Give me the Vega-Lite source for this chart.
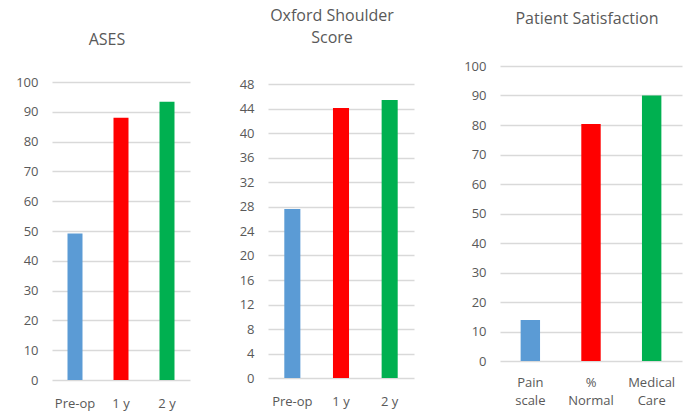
{
  "$schema": "https://vega.github.io/schema/vega-lite/v6.json",
  "background": "white",
  "padding": {"left": 15, "top": 8, "right": 5, "bottom": 2},
  "spacing": 49,
  "config": {
    "view": {"stroke": null},
    "font": "Open Sans",
    "axis": {"labelFont": "Open Sans", "labelFontSize": 13, "labelColor": "#595959", "ticks": false, "domain": false, "title": null},
    "axisY": {"gridColor": "#d9d9d9", "gridWidth": 1.3, "labelPadding": 14},
    "axisX": {"grid": false, "labelAngle": 0, "labelPadding": 17},
    "title": {"font": "Open Sans", "fontSize": 16, "fontWeight": "normal", "color": "#595959", "frame": "group", "lineHeight": 22}
  },
  "datasets": {
    "ases": [
      {"period": "Pre-op", "value": 49.2},
      {"period": "1 y", "value": 88},
      {"period": "2 y", "value": 93.4}
    ],
    "oxford": [
      {"period": "Pre-op", "value": 27.6},
      {"period": "1 y", "value": 44.1},
      {"period": "2 y", "value": 45.4}
    ],
    "satisfaction": [
      {"item": "Pain scale", "value": 13.9},
      {"item": "% Normal", "value": 80.3},
      {"item": "Medical Care", "value": 90}
    ]
  },
  "hconcat": [
    {
      "title": {"text": "ASES", "offset": 18, "dx": -14},
      "width": 138,
      "height": 314,
      "data": {"name": "ases"},
      "mark": "bar",
      "encoding": {
        "x": {"field": "period", "type": "nominal", "sort": null, "scale": {"paddingInner": 0.674, "paddingOuter": 0.337}},
        "y": {"field": "value", "type": "quantitative", "scale": {"domain": [0, 100], "range": [314, 16]}, "axis": {"values": [0,10,20,30,40,50,60,70,80,90,100]}},
        "color": {"field": "period", "type": "nominal", "scale": {"domain": ["Pre-op", "1 y", "2 y"], "range": ["#5b9bd5", "#ff0000", "#00b050"]}, "legend": null}
      }
    },
    {
      "title": {"text": ["Oxford Shoulder", "Score"], "offset": 20, "dx": -9},
      "width": 146,
      "height": 312,
      "data": {"name": "oxford"},
      "mark": "bar",
      "encoding": {
        "x": {"field": "period", "type": "nominal", "sort": null, "scale": {"paddingInner": 0.67, "paddingOuter": 0.335}},
        "y": {"field": "value", "type": "quantitative", "scale": {"domain": [0, 48], "range": [312, 18]}, "axis": {"values": [0,4,8,12,16,20,24,28,32,36,40,44,48]}},
        "color": {"field": "period", "type": "nominal", "scale": {"domain": ["Pre-op", "1 y", "2 y"], "range": ["#5b9bd5", "#ff0000", "#00b050"]}, "legend": null}
      }
    },
    {
      "title": {"text": "Patient Satisfaction", "offset": 33, "dx": -4},
      "width": 182,
      "height": 295,
      "data": {"name": "satisfaction"},
      "mark": "bar",
      "encoding": {
        "x": {"field": "item", "type": "nominal", "sort": null, "scale": {"paddingInner": 0.68, "paddingOuter": 0.34}, "axis": {"labelExpr": "split(datum.label, ' ')", "labelLineHeight": 18, "labelPadding": 15}},
        "y": {"field": "value", "type": "quantitative", "scale": {"domain": [0, 100]}, "axis": {"values": [0,10,20,30,40,50,60,70,80,90,100]}},
        "color": {"field": "item", "type": "nominal", "scale": {"domain": ["Pain scale", "% Normal", "Medical Care"], "range": ["#5b9bd5", "#ff0000", "#00b050"]}, "legend": null}
      }
    }
  ]
}
